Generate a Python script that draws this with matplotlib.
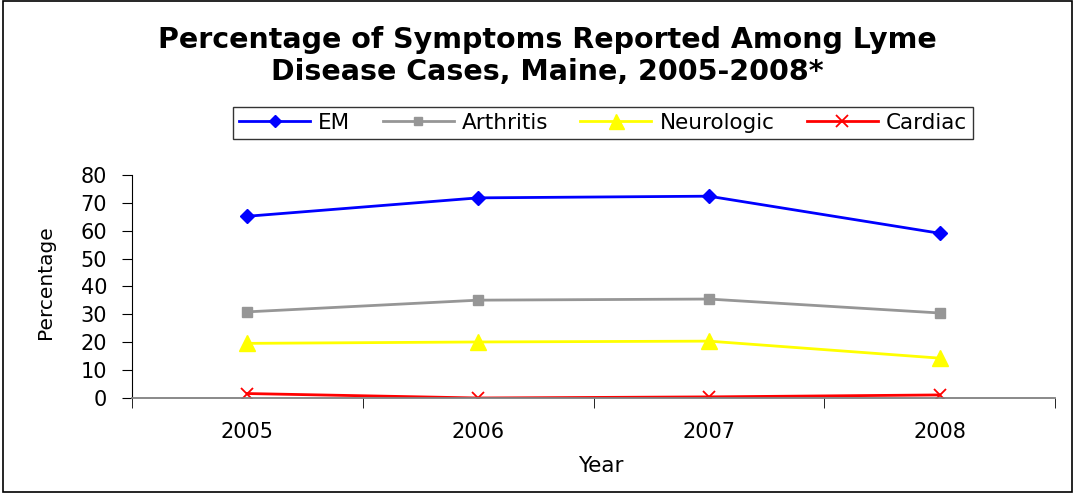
import matplotlib
matplotlib.use("Agg")
import matplotlib.pyplot as plt
from matplotlib.patches import Rectangle

years = ["2005", "2006", "2007", "2008"]
em = [65.2, 71.8, 72.4, 59.1]
arthritis = [30.9, 35.1, 35.5, 30.5]
neurologic = [19.6, 20.1, 20.4, 14.3]
cardiac = [1.6, 0.0, 0.4, 1.1]
yticks = [0, 10, 20, 30, 40, 50, 60, 70, 80]

plt.rcParams['font.family'] = ['DejaVu Sans']

fig = plt.figure(figsize=(10.76, 4.93), dpi=100)
ax = fig.add_axes([132/1076, 1-398/493, (1055-132)/1076, (398-175)/493])

x = list(range(len(years)))
ax.plot(x, em, color='#0000FF', marker='D', markersize=7, lw=2, label='EM')
ax.plot(x, arthritis, color='#969696', marker='s', markersize=7, lw=2, label='Arthritis')
ax.plot(x, neurologic, color='#FFFF00', marker='^', markersize=12, lw=2, label='Neurologic')
ax.plot(x, cardiac, color='#FF0000', marker='x', markersize=9, mew=1.3, lw=2, label='Cardiac')

ax.set_xlim(-0.5, 3.5)
ax.set_ylim(0, 80)
ax.set_yticks(yticks)
ax.set_yticklabels([str(v) for v in yticks], fontsize=15)
ax.set_xticks(x)
ax.set_xticklabels(years, fontsize=15)
ax.set_xticks([-0.5, 0.5, 1.5, 2.5, 3.5], minor=True)
ax.tick_params(axis='x', which='major', length=0, pad=17)
ax.tick_params(axis='x', which='minor', length=7, direction='out', color='black')
ax.tick_params(axis='y', length=7, direction='out', pad=11)
for s in ['top', 'right']:
    ax.spines[s].set_visible(False)
ax.spines['bottom'].set_color('#808080')
ax.spines['bottom'].set_linewidth(1.3)
ax.spines['left'].set_color('black')
ax.set_xlabel('Year', fontsize=15.5, labelpad=10)
ax.xaxis.label.set_x((601-132)/923)
ax.set_ylabel('Percentage', fontsize=14.5, labelpad=18)
ax.yaxis.label.set_y((398-282)/223)

fig.text(0.509, 1-56/493, 'Percentage of Symptoms Reported Among Lyme\nDisease Cases, Maine, 2005-2008*',
         ha='center', va='center', fontsize=20.5, fontweight='bold', linespacing=1.18)

leg = fig.legend(loc='center', bbox_to_anchor=(603/1076, 1-123/493), ncol=4, fontsize=15.5,
                 frameon=True, fancybox=False, edgecolor='black', handlelength=3.3,
                 columnspacing=1.5, handletextpad=0.37, borderpad=0.3, markerscale=0.9)
leg.get_frame().set_linewidth(1.0)

fig.patches.append(Rectangle((3/1076, 0.002), 1069/1076, 0.996, transform=fig.transFigure,
                             fill=False, edgecolor='black', lw=1.2))

fig.savefig('out.png', dpi=100)
